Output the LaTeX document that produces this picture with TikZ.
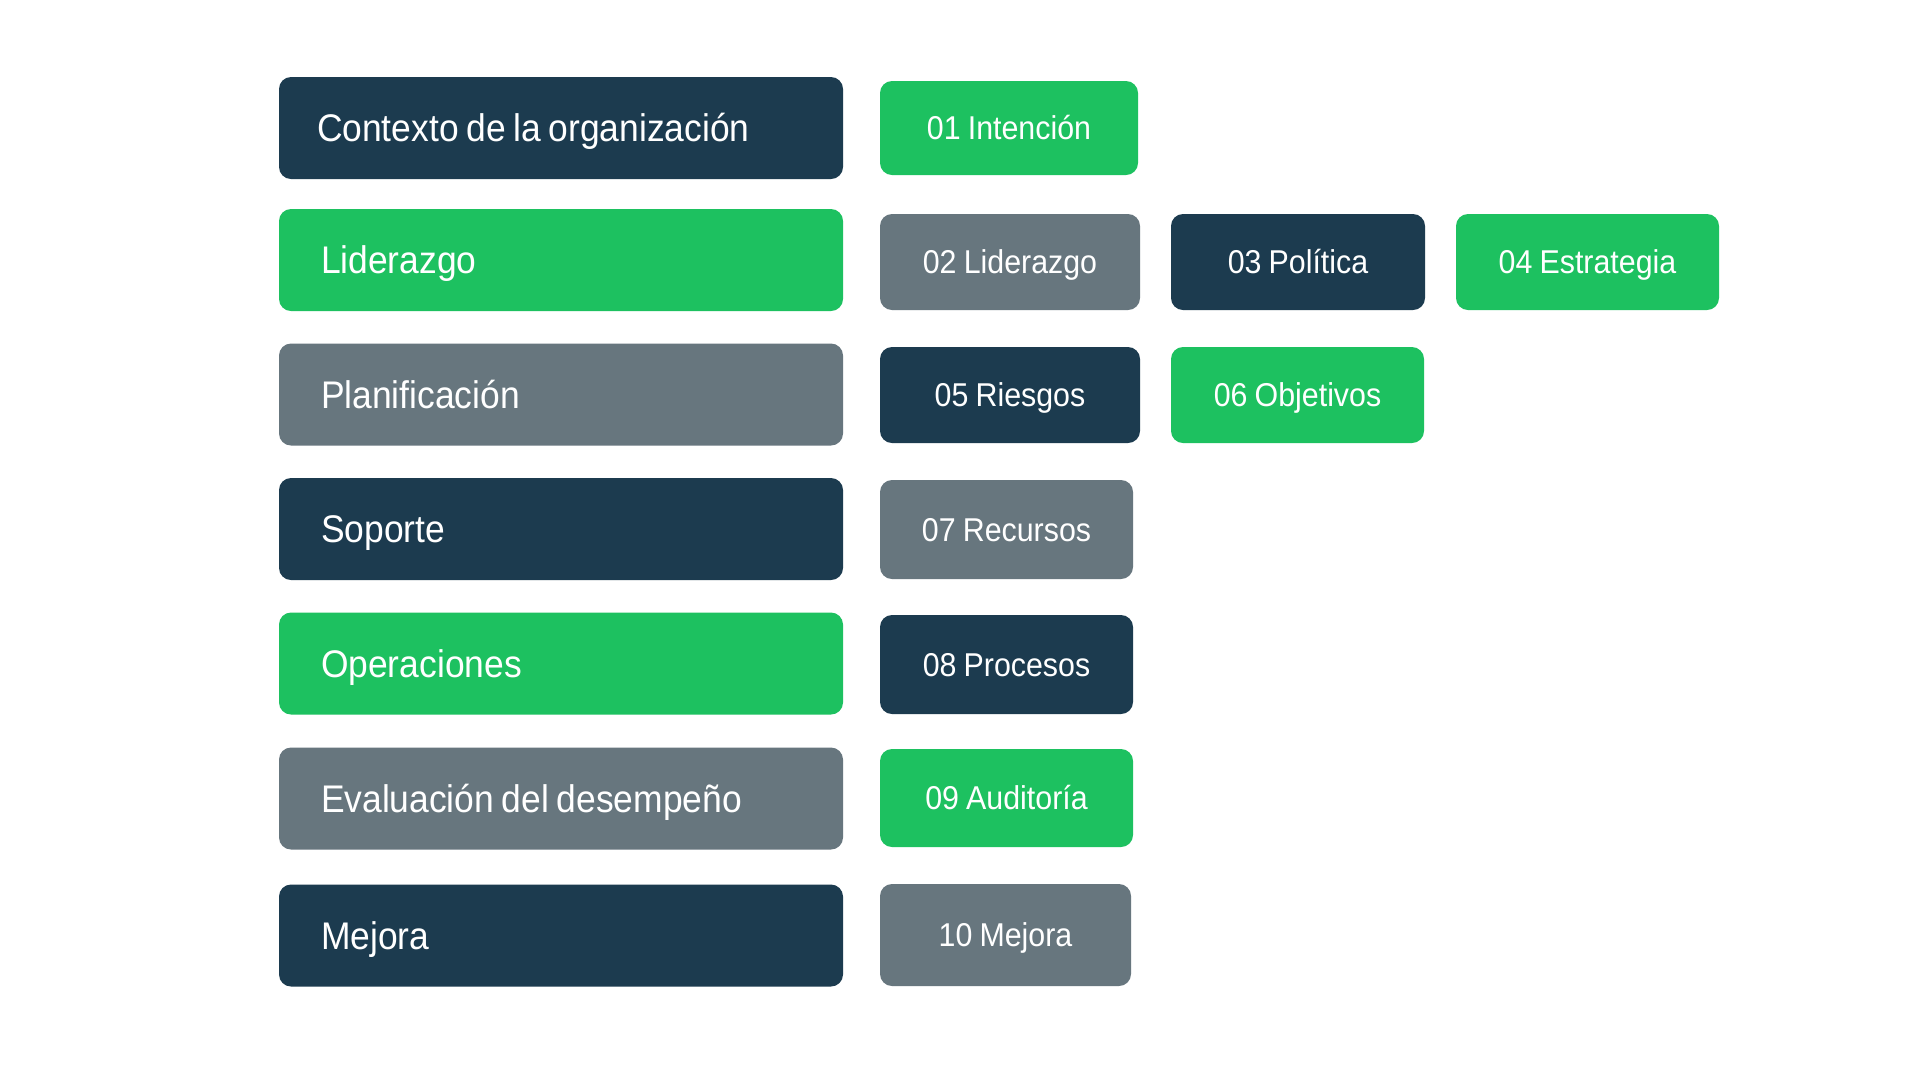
\documentclass[tikz,border=0pt]{standalone}
\usepackage{fontspec}
\setmainfont{Liberation Sans}[FakeStretch=0.92,WordSpace=0.85]
\definecolor{navy}{HTML}{1C3B4F}
\definecolor{grn}{HTML}{1DC160}
\definecolor{gry}{HTML}{67767E}
\begin{document}
\begin{tikzpicture}[x=1pt,y=-1pt,
  box/.style={rectangle, rounded corners=12pt, inner sep=0pt, text=white},
  big/.style={box, fill=#1, font=\fontsize{38.5}{46}\selectfont, execute at begin node={\spaceskip=7.7pt\relax}, text width=480pt, inner xsep=42pt, inner ysep=0pt, align=left, text height=27.6pt, text depth=0pt, minimum height=102pt},
  small/.style={box, fill=#1, font=\fontsize{33}{40}\selectfont, align=center, text height=23.6pt, text depth=0pt}]
\useasboundingbox (0,0) rectangle (1920,1080);
\fill[white] (0,0) rectangle (1920,1080);
% left column
\node[big=navy, inner xsep=38pt, text width=488pt] (b1) at (561,128) {Contexto de la organización};
\node[big=grn]  (b2) at (561,260) {Liderazgo};
\node[big=gry]  (b3) at (561,394.5) {Planificación};
\node[big=navy] (b4) at (561,529) {Soporte};
\node[big=grn]  (b5) at (561,663.5) {Operaciones};
\node[big=gry]  (b6) at (561,798.5) {Evaluación del desempeño};
\node[big=navy] (b7) at (561,935.5) {Mejora};
% right items
\node[small=grn,  minimum width=258pt, minimum height=94pt] (s1) at (1009,128) {01 Intención};
\node[small=gry,  minimum width=260pt, minimum height=96pt] (s2) at (1010,262) {02 Liderazgo};
\node[small=navy, minimum width=254pt, minimum height=96pt] (s3) at (1298,262) {03 Política};
\node[small=grn,  minimum width=263pt, minimum height=96pt] (s4) at (1587.5,262) {04 Estrategia};
\node[small=navy, minimum width=260pt, minimum height=96pt] (s5) at (1010,395) {05 Riesgos};
\node[small=grn,  minimum width=253pt, minimum height=96pt] (s6) at (1297.5,395) {06 Objetivos};
\node[small=gry,  minimum width=253pt, minimum height=99pt] (s7) at (1006.5,529.5) {07 Recursos};
\node[small=navy, minimum width=253pt, minimum height=99pt] (s8) at (1006.5,664.5) {08 Procesos};
\node[small=grn,  minimum width=253pt, minimum height=98pt] (s9) at (1006.5,798) {09 Auditoría};
\node[small=gry,  minimum width=251pt, minimum height=102pt] (s10) at (1005.5,935) {10 Mejora};
\end{tikzpicture}
\end{document}
